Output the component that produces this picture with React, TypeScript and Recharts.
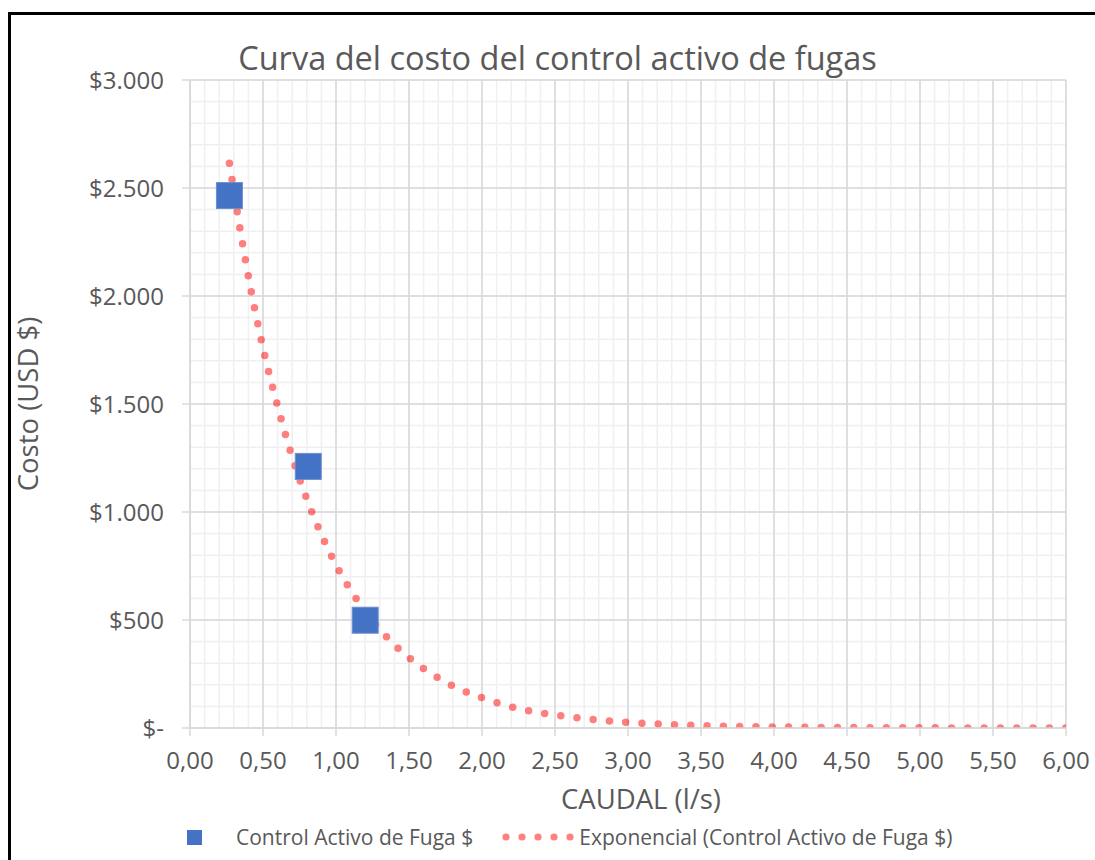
import {
  ComposedChart,
  Scatter,
  Line,
  XAxis,
  YAxis,
  CartesianGrid,
} from 'recharts';

// caudal (l/s) and cost (USD) of the three measured points
const caudal = [0.27, 0.81, 1.2];
const costo = [2465, 1211, 499];

// exponential trendline
const trendX = [0.27, 0.4, 0.5, 0.6, 0.7, 0.8, 0.9, 1.0, 1.2, 1.4, 1.6, 1.8, 2.0, 2.25, 2.5, 2.75, 3.0, 3.5, 4.0, 4.5, 5.0, 5.5, 6.0];
const trendY = [2615, 2090, 1760, 1490, 1255, 1060, 895, 755, 540, 385, 275, 195, 140, 90, 60, 40, 26, 11, 5, 2, 1, 0, 0];

const xTicks = [0, 0.5, 1, 1.5, 2, 2.5, 3, 3.5, 4, 4.5, 5, 5.5, 6];
const yTicks = [0, 500, 1000, 1500, 2000, 2500, 3000];
const xMinor = Array.from({ length: 61 }, (_, i) => i / 10);
const yMinor = Array.from({ length: 31 }, (_, i) => i * 100);

const points = caudal.map((x, i) => ({ x, y: costo[i] }));
const trend = trendX.map((x, i) => ({ x, y: trendY[i] }));

const FONT = '"Open Sans", sans-serif';
const GREY = '#595959';
const BLUE = '#4472C4';

const fmtX = (v: number) => v.toFixed(2).replace('.', ',');
const fmtY = (v: number) => (v === 0 ? '$-' : '$' + v.toLocaleString('de-DE'));

const Square = (props: any) => (
  <rect x={props.cx - 13} y={props.cy - 13} width={26} height={26} fill={BLUE} stroke="#6D8FD0" strokeWidth={1} />
);

// minor grid lines placed through the axis scales
const minorVertical = ({ xAxis, offset }: any) =>
  xMinor.map((v) => (xAxis && typeof xAxis.scale === 'function' ? xAxis.scale(v) : offset.left + (v / 6) * offset.width));
const minorHorizontal = ({ yAxis, offset }: any) =>
  yMinor.map((v) =>
    yAxis && typeof yAxis.scale === 'function' ? yAxis.scale(v) : offset.top + offset.height - (v / 3000) * offset.height,
  );

export default function App() {
  return (
    <div style={{ position: 'fixed', left: 0, top: 0, width: 1095, height: 860, overflow: 'hidden', background: '#fff' }}>
      <div
        style={{
          position: 'absolute',
          left: 8,
          top: 12,
          width: 1100,
          height: 880,
          border: '3px solid #000',
          background: '#fff',
          fontFamily: FONT,
        }}
      >
        <div style={{ position: 'absolute', left: 0, width: 1093, top: 22, textAlign: 'center', fontSize: 32.5, color: GREY, lineHeight: '42px' }}>
          Curva del costo del control activo de fugas
        </div>
        <div
          style={{
            position: 'absolute',
            left: 17,
            top: 389,
            transform: 'translate(-50%, -50%) rotate(-90deg)',
            fontSize: 27.5,
            color: GREY,
            whiteSpace: 'nowrap',
            lineHeight: '32px',
          }}
        >
          Costo (USD $)
        </div>
        <div style={{ position: 'absolute', left: 630, top: 768, transform: 'translateX(-50%)', fontSize: 27.5, color: GREY, whiteSpace: 'nowrap', lineHeight: '32px' }}>
          CAUDAL (l/s)
        </div>
        <ComposedChart width={1100} height={880} margin={{ top: 65, right: 45, bottom: 77, left: 99 }}>
          <CartesianGrid
            stroke="#F0F0F0"
            strokeWidth={1.5}
            verticalCoordinatesGenerator={minorVertical}
            horizontalCoordinatesGenerator={minorHorizontal}
          />
          <CartesianGrid stroke="#D9D9D9" strokeWidth={1.5} />
          <XAxis
            type="number"
            dataKey="x"
            domain={[0, 6]}
            ticks={xTicks}
            tickFormatter={fmtX}
            height={90}
            tickSize={8}
            tickMargin={16}
            stroke="#D9D9D9"
            strokeWidth={1.5}
            tick={{ fill: GREY, fontSize: 24, fontFamily: FONT }}
            allowDataOverflow
          />
          <YAxis
            type="number"
            dataKey="y"
            domain={[0, 3000]}
            ticks={yTicks}
            tickFormatter={fmtY}
            width={80}
            tickSize={8}
            tickMargin={18}
            stroke="#D9D9D9"
            strokeWidth={1.5}
            tick={{ fill: GREY, fontSize: 24, fontFamily: FONT }}
            allowDataOverflow
          />
          <Scatter data={points} dataKey="y" shape={Square} isAnimationActive={false} />
          <Line
            data={trend}
            dataKey="y"
            type="monotone"
            dot={false}
            activeDot={false}
            stroke="#FF0000"
            strokeOpacity={0.5}
            strokeWidth={7.5}
            strokeLinecap="round"
            strokeDasharray="0 16.3"
            isAnimationActive={false}
          />
        </ComposedChart>
        <div style={{ position: 'absolute', top: 808, left: 176, display: 'flex', alignItems: 'center', fontSize: 21, color: GREY, whiteSpace: 'nowrap' }}>
          <span style={{ display: 'inline-block', width: 15, height: 15, background: BLUE, marginRight: 34 }} />
          <span>Control Activo de Fuga $</span>
          <svg width={74} height={10} style={{ marginLeft: 28, marginRight: 4 }}>
            {[0, 1, 2, 3, 4].map((i) => (
              <circle key={i} cx={5 + i * 16} cy={5} r={3.6} fill="#FF8080" />
            ))}
          </svg>
          <span>Exponencial (Control Activo de Fuga $)</span>
        </div>
      </div>
    </div>
  );
}
